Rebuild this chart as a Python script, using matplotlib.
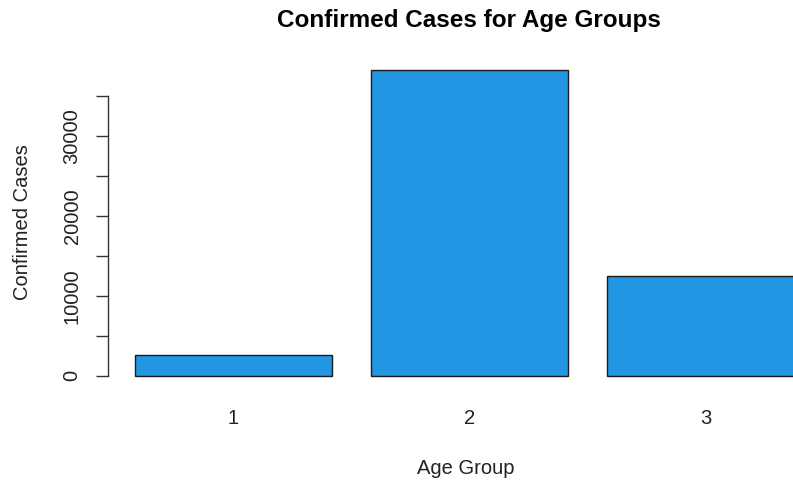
import matplotlib
matplotlib.use("Agg")
import matplotlib.pyplot as plt

# data
age_groups = ["1", "2", "3"]
confirmed = [2600, 38250, 12500]
y_ticks = [0, 5000, 10000, 15000, 20000, 25000, 30000, 35000]
y_labels = ["0", "", "10000", "", "20000", "", "30000", ""]

W, H = 793, 483
plt.rcParams['font.family'] = ['Liberation Sans', 'DejaVu Sans']

fig = plt.figure(figsize=(W / 100, H / 100), dpi=100)

# plot region in pixels (R style barplot, cropped on the right)
left_px, right_px, top_px, bot_px = 108.3, 793, 57.5, 388
ax = fig.add_axes([left_px / W, 1 - bot_px / H,
                   (right_px - left_px) / W, (bot_px - top_px) / H])

# bars: width 1, space 0.2 like R barplot
xpos = [0.2 + i * 1.2 + 0.5 for i in range(len(age_groups))]
ax.bar(xpos, confirmed, width=1.0, color="#2196e3",
       edgecolor="#1a1a1a", linewidth=1.0)

ax.set_xlim(0.064, 3.543)
ax.set_ylim(-1530, 39780)

for s in ["top", "right", "bottom"]:
    ax.spines[s].set_visible(False)
ax.spines["left"].set_bounds(0, 35000)
ax.spines["left"].set_color("#333333")
ax.spines["left"].set_linewidth(1.0)

ax.set_yticks(y_ticks)
ax.set_yticklabels([])
ax.tick_params(axis="y", length=8.4, width=1.0, color="#333333")
ax.set_xticks([])

# y tick labels rotated like R
lab_x = (72 - left_px) / (right_px - left_px)
for v, lab in zip(y_ticks, y_labels):
    if lab:
        ax.text(lab_x, v, lab, rotation=90, ha="center", va="center",
                fontsize=14.5, color="#222222",
                transform=ax.get_yaxis_transform())

# bar names
for x, name in zip(xpos, age_groups):
    ax.text(x, -5300, name, ha="center", va="center", fontsize=14.5,
            color="#222222", clip_on=False)

def fx(px):
    return px / W

def fy(py):
    return 1 - py / H

fig.text(fx(469), fy(21), "Confirmed Cases for Age Groups", ha="center",
         va="center", fontsize=17.5, fontweight="bold", color="black")
fig.text(fx(466), fy(468), "Age Group", ha="center", va="center",
         fontsize=14.5, color="#222222")
fig.text(fx(23), fy(222), "Confirmed Cases", ha="center", va="center",
         rotation=90, fontsize=14.5, color="#222222")

fig.savefig("out.png", dpi=100)
